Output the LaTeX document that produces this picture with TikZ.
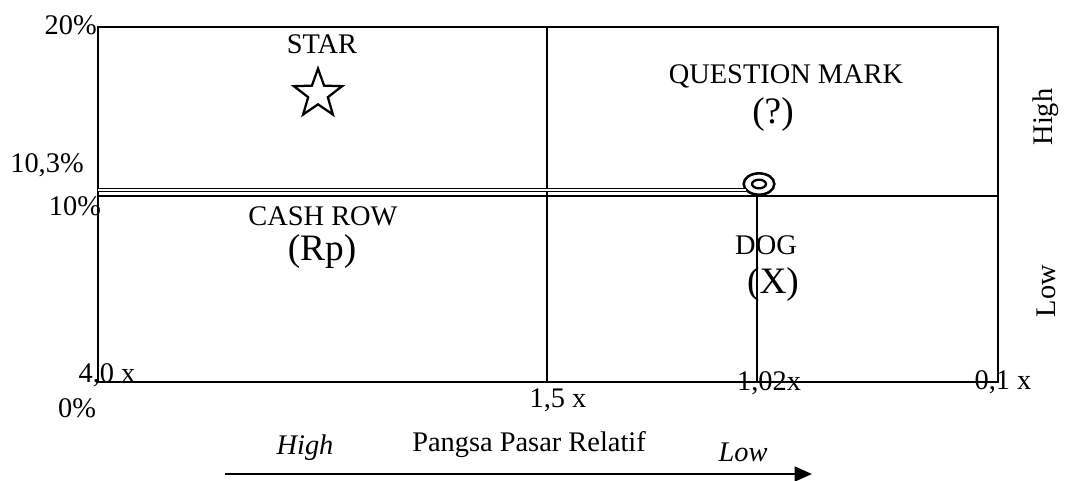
\documentclass[tikz,border=0pt]{standalone}
\usepackage{fontspec}
\setmainfont{Liberation Serif}
\usetikzlibrary{shapes.geometric,arrows.meta}
\begin{document}
\begin{tikzpicture}[x=0.75pt,y=-0.75pt,
  lbl/.style={inner sep=0pt,font=\fontsize{21.3}{24}\selectfont},
  big/.style={inner sep=0pt,font=\fontsize{28}{31}\selectfont},
  frame/.style={line width=2.1pt},
  thinline/.style={line width=1.2pt}]
\useasboundingbox (0,0) rectangle (1066,480);
% frame and quadrants
\coordinate (tl) at (98,27);
\coordinate (br) at (998,382);
\draw[frame] (tl) rectangle (br);
\coordinate (mt) at (547,27);
\coordinate (mb) at (547,382);
\draw[frame] (mt) -- (mb);
\coordinate (ml) at (98,196);
\coordinate (mr) at (998,196);
\draw[frame] (ml) -- (mr);
% position marker
\node[draw,ellipse,line width=1.9pt,minimum width=23pt,minimum height=16pt,inner sep=0pt] (pos) at (759,184) {};
\node[draw,ellipse,line width=1.7pt,minimum width=10.5pt,minimum height=6.5pt,inner sep=0pt] (posin) at (759,184) {};
\coordinate (dl) at (98,189.8);
\coordinate (dr) at (746,189.8);
\draw[line width=0.9pt,double=white,double distance=1.2pt] (dl) -- (dr);
\coordinate (vb) at (757,382);
\coordinate (vt) at (757,196);
\draw[thinline] (vt) -- (vb);
% axis values
\node[lbl,anchor=east] (p20) at (97,25) {20\%};
\node[lbl] (p103) at (47,165) {10,3\%};
\node[lbl] (p10) at (75,206) {10\%};
\node[lbl] (x40) at (107,375) {4,0 x};
\node[lbl] (p0) at (77,408) {0\%};
\node[lbl] (x15) at (558,400) {1,5 x};
\node[lbl] (x102) at (769,383) {1,02x};
\node[lbl] (x01) at (1003,382) {0,1 x};
\node[lbl,rotate=90] (hi) at (1046,117) {High};
\node[lbl,rotate=90] (lo) at (1046,291) {Low};
% quadrant labels
\node[lbl] (star) at (322,44) {STAR};
\node[draw,star,star points=5,star point ratio=2.45,line width=1.7pt,minimum size=38pt,inner sep=0pt] (starsym) at (318,94) {};
\node[lbl] (qm) at (786,76) {QUESTION MARK};
\node[big] (qq) at (773,115) {(?)};
\node[lbl] (cash) at (323,216) {CASH ROW};
\node[big] (rp) at (322,252) {(Rp)};
\node[lbl] (dog) at (766,245) {DOG};
\node[big] (xx) at (773,285) {(X)};
% bottom axis
\node[lbl,font=\fontsize{21.3}{24}\selectfont\itshape] (bh) at (305,448) {High};
\node[lbl] (pp) at (529,445) {Pangsa Pasar Relatif};
\node[lbl,font=\fontsize{21.3}{24}\selectfont\itshape] (bl) at (743,452) {Low};
\coordinate (as) at (225,474);
\coordinate (ae) at (812,474);
\draw[line width=2pt,-{Triangle[length=13pt,width=11pt]}] (as) -- (ae);
\end{tikzpicture}
\end{document}
